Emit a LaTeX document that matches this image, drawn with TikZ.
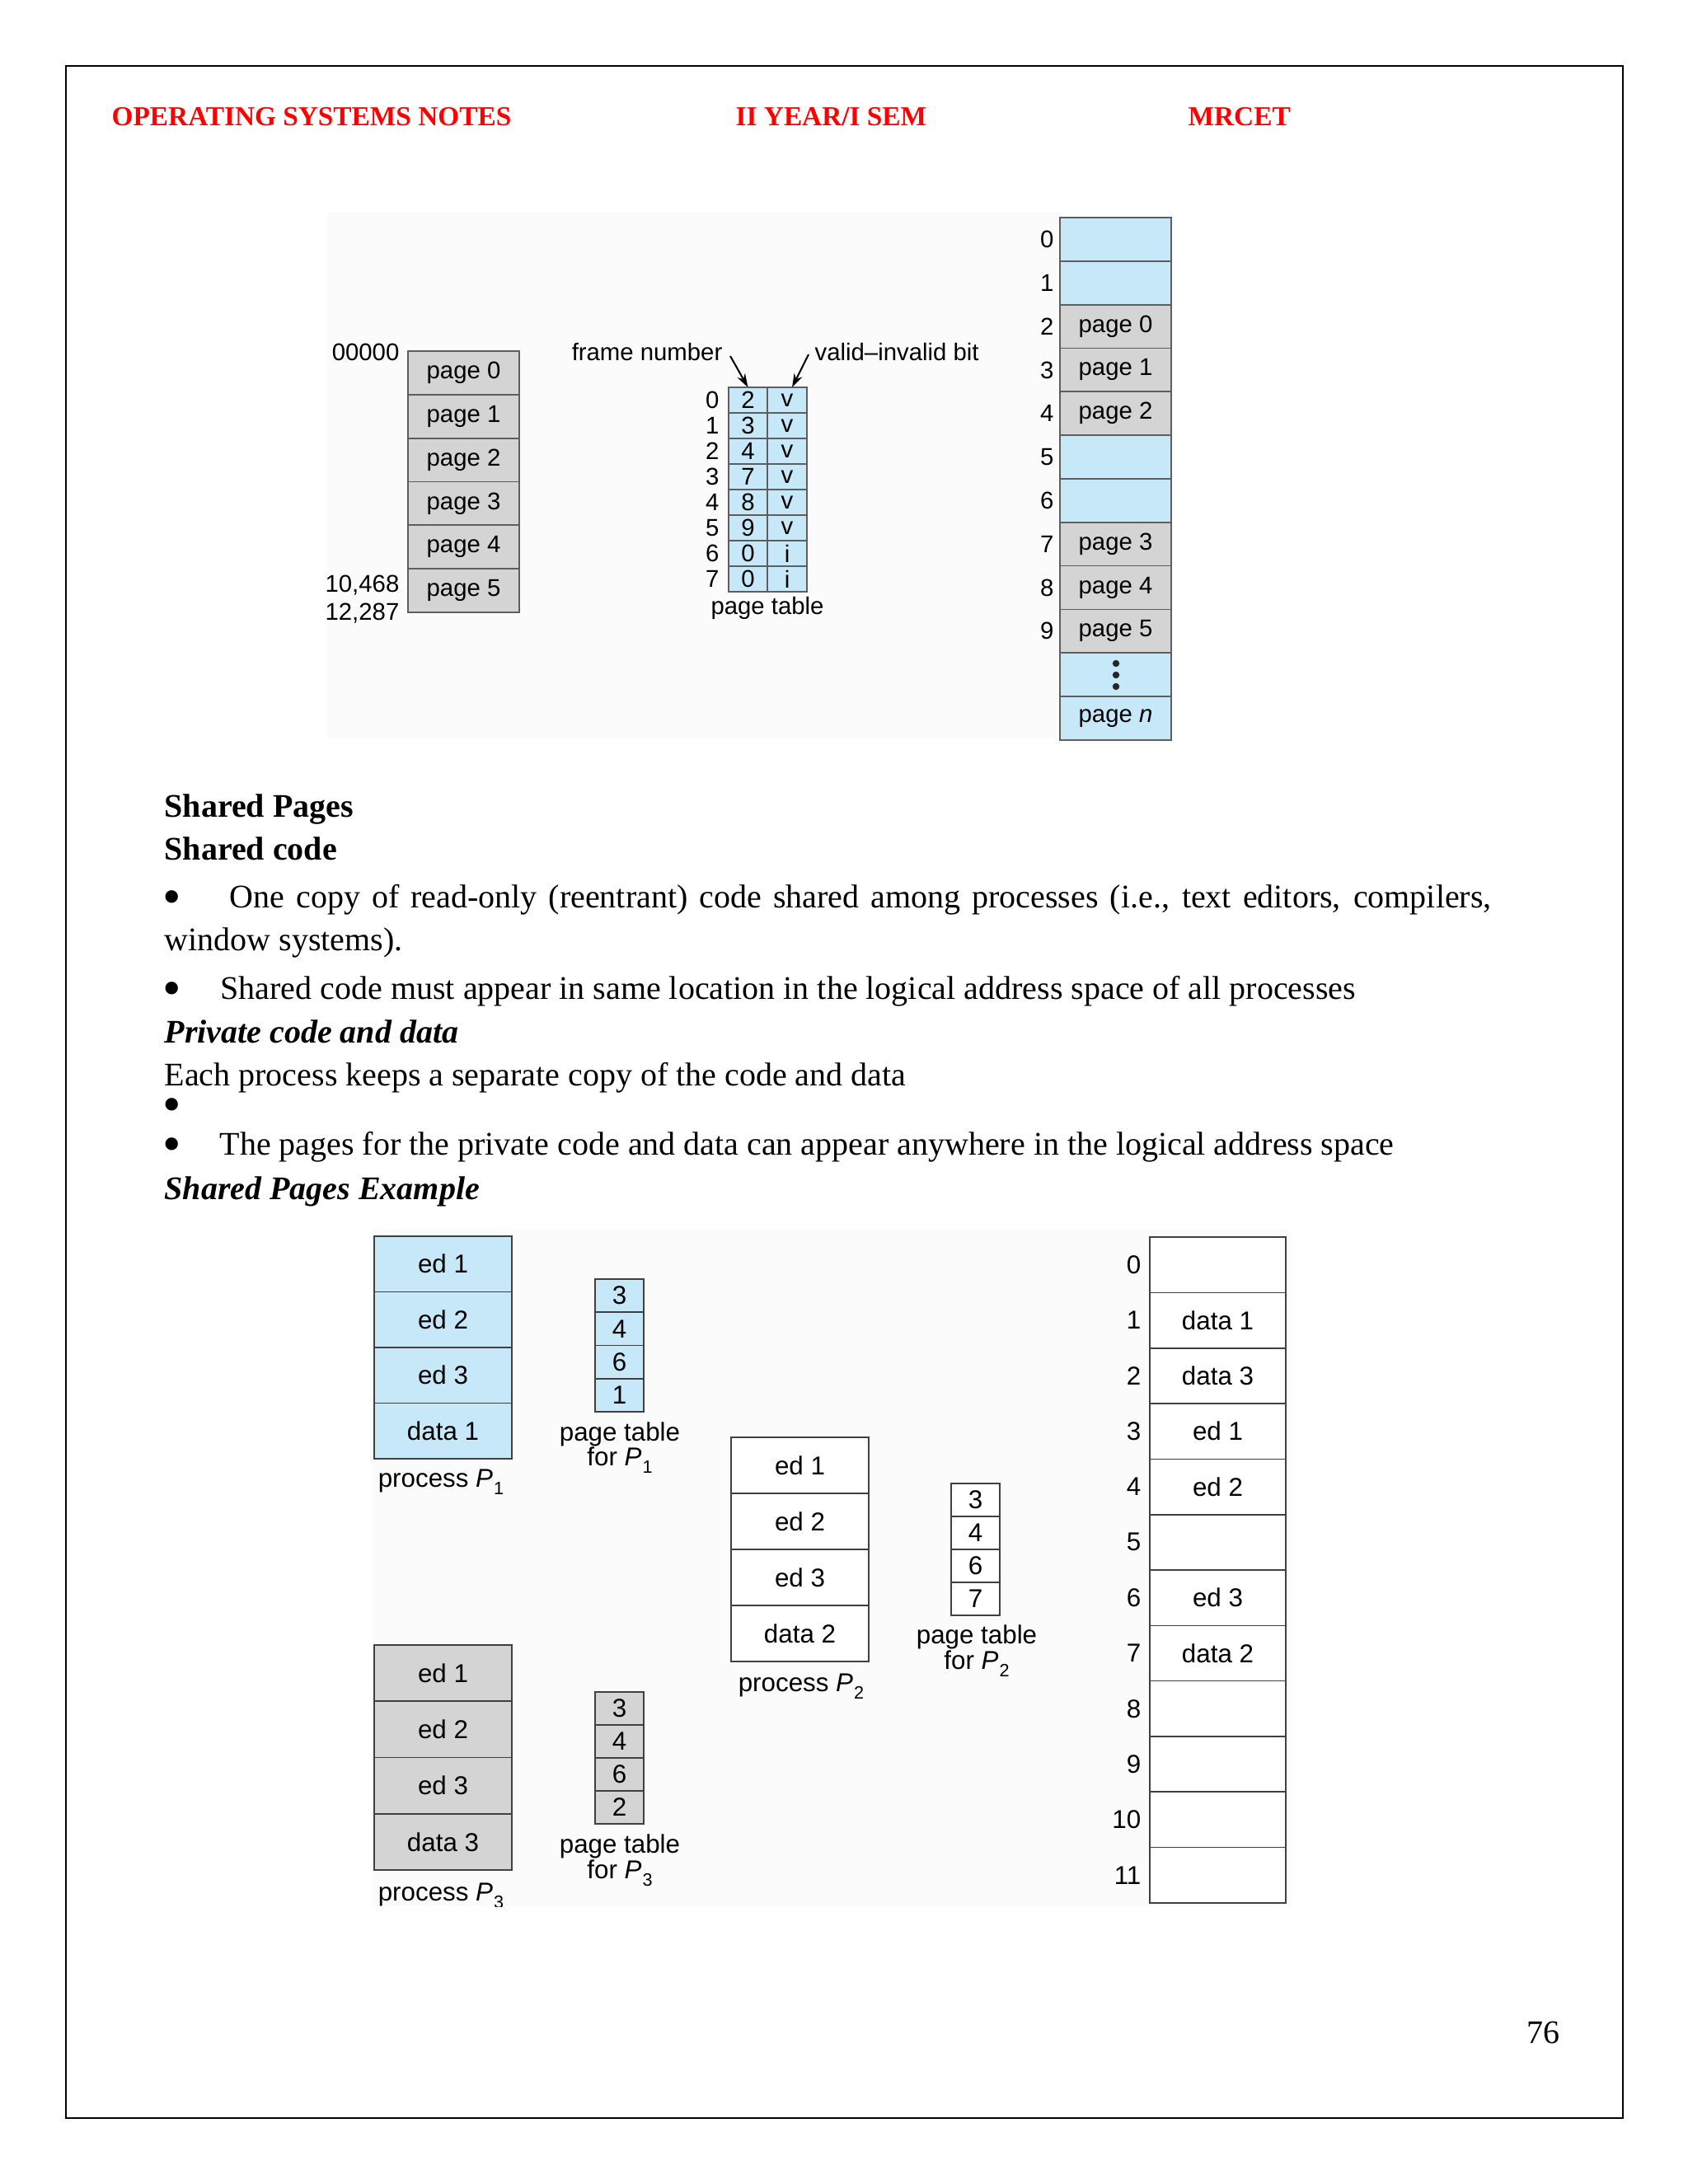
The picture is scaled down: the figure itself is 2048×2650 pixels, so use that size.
\documentclass[tikz,border=0pt]{standalone}
\usepackage{fontspec}
\usepackage{graphicx}
\setmainfont{Liberation Serif}
\newfontfamily\diag{Liberation Sans}
\usetikzlibrary{arrows.meta}
\definecolor{memblue}{HTML}{C6E8F8}
\definecolor{memgrey}{HTML}{D4D4D4}
\definecolor{hdrred}{HTML}{FF0000}
\definecolor{lineA}{HTML}{5E5E5E}
\definecolor{lineB}{HTML}{404040}
\definecolor{figbg}{HTML}{FBFBFB}
\newcommand\Psub[1]{\textit{P}\kern0.3pt\raisebox{-0.55ex}{\fontsize{6.5}{7}\selectfont #1}}
\newcommand\bigbul{\raisebox{-2.6pt}{\scalebox{1.6}{\textbullet}}}
\begin{document}
\begin{tikzpicture}[x=0.3pt,y=-0.3pt,
  cellA/.style={draw=lineA, line width=0.5pt, inner sep=0pt, outer sep=0pt,
    font=\diag\fontsize{8.8}{10}\selectfont},
  cellB/.style={draw=lineB, line width=0.5pt, inner sep=0pt, outer sep=0pt,
    font=\diag\fontsize{9.4}{11}\selectfont},
  lblA/.style={inner sep=0pt, font=\diag\fontsize{8.8}{10}\selectfont},
  lblB/.style={inner sep=0pt, font=\diag\fontsize{9.4}{11}\selectfont},
  hdr/.style={anchor=base west, inner sep=0pt, text=hdrred, font=\fontsize{10}{12}\selectfont\bfseries},
  body/.style={anchor=base west, inner sep=0pt, font=\fontsize{12}{14}\selectfont},
  arr/.style={-{Stealth[length=5pt,width=3.2pt]}, line width=0.6pt, black}]
\useasboundingbox (0,0) rectangle (2048,2650);
\fill[white] (0,0) rectangle (2048,2650);
\draw[line width=0.55pt] (80,80) rectangle (1969,2570);

% header
\node[hdr] (h1) at (135,152) {OPERATING SYSTEMS NOTES};
\node[hdr] (h2) at (892,152) {II YEAR/I SEM};
\node[hdr] (h3) at (1441,152) {MRCET};

% ---------- top figure ----------
\fill[figbg] (397,257) rectangle (1284,896);
\foreach \i in {0,...,5}
  \node[cellA, fill=memgrey, minimum width=40.5pt, minimum height=15.85pt]
    (lp\i) at (562.5,{426+52.83*(\i+0.5)}) {page \i};
\node[lblA, anchor=east] (a0) at (485,427) {00000};
\node[lblA, anchor=east] (a1) at (485,710) {10,468};
\node[lblA, anchor=east] (a2) at (485,744) {12,287};

\foreach \i/\f/\v in {0/2/v,1/3/v,2/4/v,3/7/v,4/8/v,5/9/v,6/0/i,7/0/i} {
  \node[cellA, fill=memblue, minimum width=14.1pt, minimum height=9.3pt]
    (ft\i) at (907.5,{470+31*(\i+0.5)}) {\f};
  \node[cellA, fill=memblue, minimum width=14.4pt, minimum height=9.3pt]
    (vt\i) at (955,{470+31*(\i+0.5)}) {\v};
  \node[lblA, anchor=east] (pn\i) at (873,{470+31*(\i+0.5)}) {\i};
}
\node[lblA] (ptl) at (931,738) {page table};
\node[lblA, anchor=east] (fnl) at (877,427) {frame number};
\node[lblA, anchor=west] (vbl) at (988,427) {valid–invalid bit};
\coordinate (fnA) at (886,432);
\coordinate (vbA) at (981,430);
\draw[arr] (fnA) -- (ft0.north);
\draw[arr] (vbA) -- ([xshift=1.8pt]vt0.north);

\foreach \i/\c/\t in {0/memblue/{},1/memblue/{},2/memgrey/page 0,3/memgrey/page 1,
    4/memgrey/page 2,5/memblue/{},6/memblue/{},7/memgrey/page 3,8/memgrey/page 4,
    9/memgrey/page 5,10/memblue/{},11/memblue/page \textit{n}}
  \node[cellA, fill=\c, minimum width=40.5pt, minimum height=15.85pt]
    (fm\i) at (1353.5,{264+52.83*(\i+0.5)}) {\t};
\foreach \i in {0,...,9}
  \node[lblA, anchor=east] (fmn\i) at (1279,{264+52.83*(\i+0.5)}) {\i};
\foreach \yy in {805,819,833}
  \fill[black!85] (1354,\yy) circle (4.2);

% ---------- body text ----------
\node[body, font=\fontsize{12}{14}\selectfont\bfseries] (t1) at (199,991) {Shared Pages};
\node[body, font=\fontsize{12}{14}\selectfont\bfseries] (t2) at (199,1043) {Shared code};
\node[body] (b1) at (197,1101) {\bigbul};
\node[body] (t3) at (278,1101) {\makebox[459.3pt][s]{One copy of read-only (reentrant) code shared among processes (i.e., text editors, compilers,}};
\node[body] (t4) at (199,1153.5) {window systems).};
\node[body] (b2) at (197,1212) {\bigbul};
\node[body] (t5) at (267,1212) {Shared code must appear in same location in the logical address space of all processes};
\node[body, font=\fontsize{12}{14}\selectfont\bfseries\itshape] (t6) at (199,1265) {Private code and data};
\node[body] (t7) at (199,1317) {Each process keeps a separate copy of the code and data};
\node[body] (b3) at (197,1353) {\bigbul};
\node[body] (b4) at (197,1401) {\bigbul};
\node[body] (t8) at (266,1401) {The pages for the private code and data can appear anywhere in the logical address space};
\node[body, font=\fontsize{12}{14}\selectfont\bfseries\itshape] (t9) at (199,1455) {Shared Pages Example};

% ---------- bottom figure ----------
\fill[figbg] (451,1492) rectangle (1565,2313);
\foreach \i/\t in {0/ed 1,1/ed 2,2/ed 3,3/data 1}
  \node[cellB, fill=memblue, minimum width=50.1pt, minimum height=20.25pt]
    (pa\i) at (537.5,{1500+67.5*(\i+0.5)}) {\t};
\foreach \i/\t in {0/3,1/4,2/6,3/1}
  \node[cellB, fill=memblue, minimum width=17.7pt, minimum height=12.07pt]
    (ta\i) at (751.5,{1552+40.25*(\i+0.5)}) {\t};
\node[lblB] (la) at (535,1798) {process \Psub{1}};
\node[lblB] (ta1l) at (752,1740) {page table};
\node[lblB] (ta2l) at (752,1772) {for \Psub{1}};

\foreach \i/\t in {0/ed 1,1/ed 2,2/ed 3,3/data 2}
  \node[cellB, fill=white, minimum width=50.1pt, minimum height=20.4pt]
    (pb\i) at (970.5,{1744+68*(\i+0.5)}) {\t};
\foreach \i/\t in {0/3,1/4,2/6,3/7}
  \node[cellB, fill=white, minimum width=17.7pt, minimum height=12pt]
    (tb\i) at (1183.5,{1800+40*(\i+0.5)}) {\t};
\node[lblB] (lb) at (972,2046) {process \Psub{2}};
\node[lblB] (tb1l) at (1185,1986) {page table};
\node[lblB] (tb2l) at (1185,2019) {for \Psub{2}};

\foreach \i/\t in {0/ed 1,1/ed 2,2/ed 3,3/data 3}
  \node[cellB, fill=memgrey, minimum width=50.1pt, minimum height=20.47pt]
    (pc\i) at (537.5,{1996+68.25*(\i+0.5)}) {\t};
\foreach \i/\t in {0/3,1/4,2/6,3/2}
  \node[cellB, fill=memgrey, minimum width=17.7pt, minimum height=12pt]
    (tc\i) at (751.5,{2053+40*(\i+0.5)}) {\t};
\begin{scope}
  \clip (440,2270) rectangle (700,2313);
  \node[lblB] (lc) at (535,2300) {process \Psub{3}};
\end{scope}
\node[lblB] (tc1l) at (752,2240) {page table};
\node[lblB] (tc2l) at (752,2273) {for \Psub{3}};

\foreach \i/\t in {0/{},1/data 1,2/data 3,3/ed 1,4/ed 2,5/{},6/ed 3,7/data 2,8/{},9/{},10/{},11/{}} {
  \node[cellB, fill=white, minimum width=49.5pt, minimum height=20.2pt]
    (pm\i) at (1477.5,{1501+67.33*(\i+0.5)}) {\t};
  \node[lblB, anchor=east] (pmn\i) at (1385,{1501+67.33*(\i+0.5)}) {\i};
}

% page number
\node[body, anchor=base east] (pg) at (1893,2479) {76};
\end{tikzpicture}
\end{document}
